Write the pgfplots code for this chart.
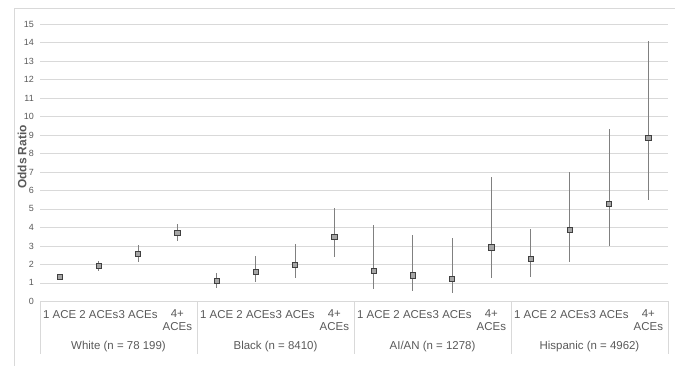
\documentclass[border=0pt]{standalone}
\usepackage{fontspec}
\setmainfont{Liberation Sans}
\usepackage{pgfplots}
\usepackage{pgfplotstable}
\pgfplotsset{compat=1.18}
\definecolor{gridc}{HTML}{D9D9D9}
\definecolor{txt}{HTML}{595959}
\definecolor{errc}{HTML}{808080}
\definecolor{mfill}{HTML}{A6A6A6}
\definecolor{medge}{HTML}{404040}
\pgfplotstableread{
x y lo hi
0 1.34 1.22 1.47
1 1.93 1.66 2.20
2 2.56 2.14 3.03
3 3.72 3.26 4.17
4 1.10 0.74 1.52
5 1.61 1.03 2.46
6 1.97 1.28 3.11
7 3.50 2.41 5.07
8 1.66 0.65 4.14
9 1.41 0.56 3.59
10 1.21 0.44 3.41
11 2.92 1.28 6.73
12 2.31 1.33 3.93
13 3.86 2.14 7.00
14 5.28 3.00 9.33
15 8.84 5.50 14.10
}\datatable
\begin{document}
\begin{tikzpicture}
\path[use as bounding box] (-40bp,-64.6bp) rectangle (635bp,301.4bp);
\draw[gridc, line width=0.6pt] (-26bp,-64.6bp) -- (-26bp,293.4bp) -- (635bp,293.4bp);
\begin{axis}[
  at={(0,0)}, anchor=south west,
  scale only axis, width=628bp, height=277.4bp,
  xmin=-0.5, xmax=15.5, ymin=0, ymax=15,
  ytick={0,1,...,15},
  xtick={0,1,...,15},
  xticklabels={1 ACE,2 ACEs,3 ACEs,{4+\\ACEs},1 ACE,2 ACEs,3 ACEs,{4+\\ACEs},1 ACE,2 ACEs,3 ACEs,{4+\\ACEs},1 ACE,2 ACEs,3 ACEs,{4+\\ACEs}},
  ymajorgrids, grid style={gridc, line width=0.7pt},
  axis line style={draw=none},
  tick style={draw=none},
  major tick length=0pt,
  clip=false,
  /pgf/number format/assume math mode=true,
  yticklabel style={font=\fontsize{9}{10}\selectfont, text=txt, anchor=east, inner sep=0pt, xshift=-6bp},
  xticklabel style={font=\fontsize{11.5}{13}\selectfont, text=txt, anchor=north, align=center, inner sep=0pt, yshift=-8.5bp},
]
\addplot[only marks, mark=none,
  error bars/.cd, y dir=both, y explicit, error mark=none,
  error bar style={errc, line width=1.1pt}]
  table[x=x, y=y, y error plus expr=\thisrow{hi}-\thisrow{y}, y error minus expr=\thisrow{y}-\thisrow{lo}] {\datatable};
\addplot[only marks, mark=square*, mark size=2.6bp,
  mark options={fill=mfill, draw=medge, line width=0.8pt}]
  table[x=x, y=y] {\datatable};
\foreach \s in {-0.5,3.5,7.5,11.5,15.5} {
  \edef\tmp{\noexpand\draw[gridc, line width=0.7pt] (axis cs:\s,0) -- ([yshift=-53bp]axis cs:\s,0);}
  \tmp
}
\foreach \c/\t in {1.5/{White (n = 78 199)},5.5/{Black (n = 8410)},9.5/{AI/AN (n = 1278)},13.5/{Hispanic (n = 4962)}} {
  \edef\tmp{\noexpand\node[font=\noexpand\fontsize{11.5}{13}\noexpand\selectfont, text=txt, anchor=base] at ([yshift=-48.5bp]axis cs:\c,0) {\t};}
  \tmp
}
\end{axis}
\node[rotate=90, font=\bfseries\fontsize{12}{14}\selectfont, text=txt] at (-18bp,144.4bp) {Odds Ratio};
\end{tikzpicture}
\end{document}
